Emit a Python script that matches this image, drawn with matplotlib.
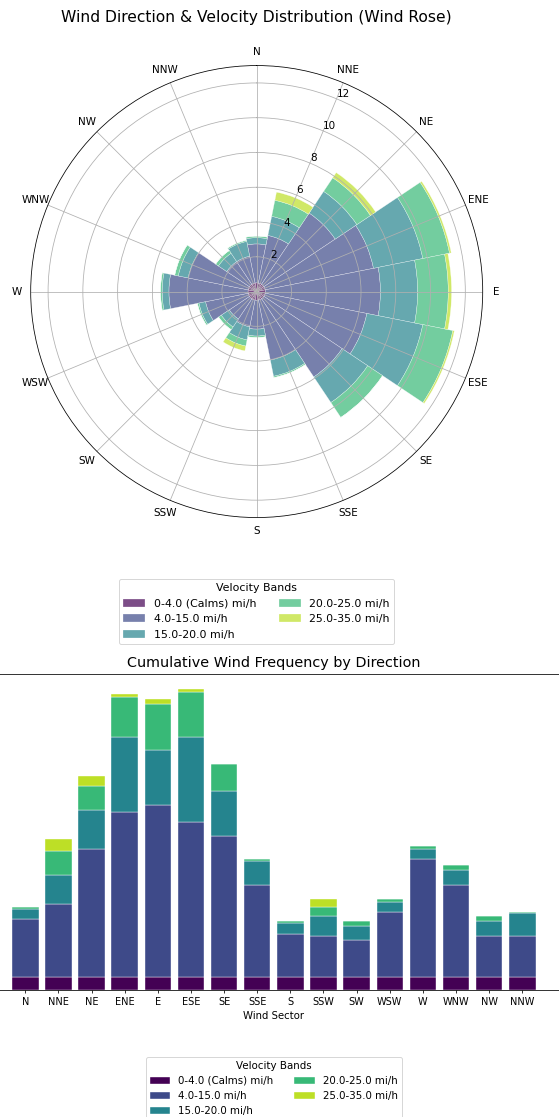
import numpy as np
import matplotlib

matplotlib.use("Agg")
import matplotlib.pyplot as plt

# wind sectors, clockwise from north
sectors = ["N", "NNE", "NE", "ENE", "E", "ESE", "SE", "SSE",
           "S", "SSW", "SW", "WSW", "W", "WNW", "NW", "NNW"]

band_labels = ["0-4.0 (Calms) mi/h", "4.0-15.0 mi/h", "15.0-20.0 mi/h",
               "20.0-25.0 mi/h", "25.0-35.0 mi/h"]

# frequency (%) per velocity band and sector
calms = [0.5, 0.5, 0.5, 0.5, 0.5, 0.5, 0.5, 0.5,
         0.5, 0.5, 0.5, 0.5, 0.5, 0.5, 0.5, 0.5]
band_4_15 = [2.24, 2.79, 4.93, 6.35, 6.62, 5.96, 5.41, 3.52,
             1.66, 1.57, 1.40, 2.50, 4.55, 3.52, 1.57, 1.57]
band_15_20 = [0.36, 1.12, 1.50, 2.89, 2.14, 3.28, 1.77, 0.95,
              0.40, 0.77, 0.55, 0.39, 0.39, 0.58, 0.58, 0.87]
band_20_25 = [0.09, 0.94, 0.94, 1.57, 1.76, 1.76, 1.03, 0.08,
              0.09, 0.36, 0.19, 0.09, 0.10, 0.21, 0.19, 0.07]
band_25_35 = [0.0, 0.48, 0.36, 0.10, 0.19, 0.09, 0.0, 0.0,
              0.0, 0.28, 0.0, 0.0, 0.0, 0.0, 0.0, 0.0]

bands = [calms, band_4_15, band_15_20, band_20_25, band_25_35]
colors = plt.cm.viridis(np.linspace(0, 0.9, len(bands)))

DPI = 70
W, H = 559, 1117
fig = plt.figure(figsize=(W / DPI, (H + 0.2) / DPI), dpi=DPI)

# ---- wind rose -------------------------------------------------------------
ax = fig.add_axes([30.7 / W, 1 - 517.7 / H, 452 / W, 452 / H],
                  projection="polar")
ax.set_theta_zero_location("N")
ax.set_theta_direction(-1)

theta = np.arange(len(sectors)) * 2 * np.pi / len(sectors)
width = 2 * np.pi / len(sectors)
bottom = np.zeros(len(sectors))
for vals, col, lab in zip(bands, colors, band_labels):
    vals = np.asarray(vals)
    ax.bar(theta, vals, width=width, bottom=bottom, color=col, alpha=0.7,
           edgecolor="white", linewidth=0.4, label=lab)
    bottom += vals

ax.set_xticks(theta)
ax.set_xticklabels(sectors)
ax.set_ylim(0, 13)
ax.set_yticks([2, 4, 6, 8, 10, 12])
ax.tick_params(labelsize=10.7)
ax.set_title("Wind Direction & Velocity Distribution (Wind Rose)",
             fontsize=15.9, y=(517.7 - 21.5) / 452, pad=0)
ax.legend(title="Velocity Bands", loc="upper center",
          bbox_to_anchor=(0.5, -0.123), ncol=2,
          fontsize=11.3, title_fontsize=11.3)

# ---- stacked bars ----------------------------------------------------------
ax2 = fig.add_axes([-14.1 / W, (H - 989.7) / H, 575.8 / W, 315.4 / H])
x = np.arange(len(sectors))
bottom = np.zeros(len(sectors))
for vals, col, lab in zip(bands, colors, band_labels):
    vals = np.asarray(vals)
    ax2.bar(x, vals, width=0.8, bottom=bottom, color=col,
            edgecolor="white", linewidth=0.4, label=lab)
    bottom += vals

ax2.set_xticks(x)
ax2.set_xticklabels(sectors)
ax2.set_yticks([])
ax2.spines["left"].set_visible(False)
ax2.spines["right"].set_visible(False)
ax2.set_xlabel("Wind Sector", fontsize=10.4)
ax2.set_title("Cumulative Wind Frequency by Direction", fontsize=14.8, pad=7.5)
ax2.legend(title="Velocity Bands", loc="upper center",
           bbox_to_anchor=(0.5, -0.196), ncol=2,
           fontsize=10.5, title_fontsize=10.5)

fig.savefig("out.png", dpi=DPI)
